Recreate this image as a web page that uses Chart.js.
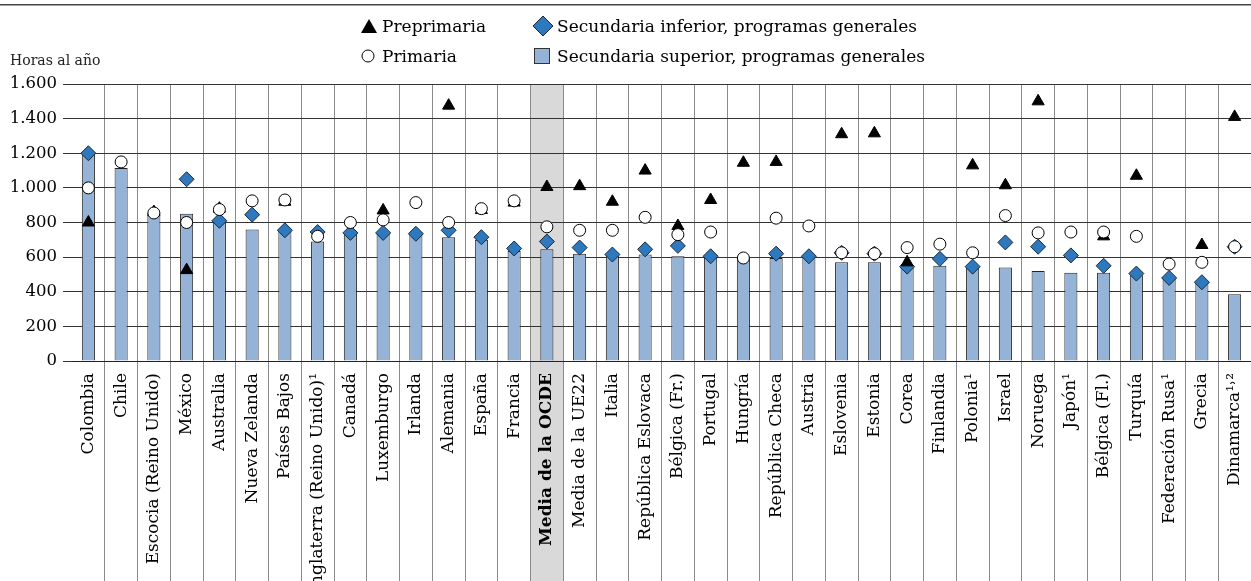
<!DOCTYPE html>
<html>
<head>
<meta charset="utf-8">
<script src="https://cdn.jsdelivr.net/npm/chart.js@4.4.1/dist/chart.umd.min.js"></script>
<style>
  html, body { margin: 0; padding: 0; background: #fff; }
  #wrap { position: relative; width: 1251px; height: 581px; overflow: hidden; }
  #chart { position: absolute; left: 0; top: 0; }
  .leg { position: absolute; height: 22px; line-height: 22px; font-family: 'DejaVu Serif', serif; font-size: 17px; color: #000; white-space: nowrap; }
  .leg svg { position: absolute; top: 0; }
  #unit { position: absolute; left: 10px; top: 52px; font-family: 'DejaVu Serif', serif; font-size: 14px; color: #222; }
</style>
</head>
<body>
<div id="wrap">
  <canvas id="chart" width="1251" height="581"></canvas>
  <div id="unit">Horas al año</div>
</div>
<script>
// datos
const categories = [
  "Colombia", "Chile", "Escocia (Reino Unido)", "México", "Australia", "Nueva Zelanda",
  "Países Bajos", "Inglaterra (Reino Unido)¹", "Canadá", "Luxemburgo", "Irlanda", "Alemania",
  "España", "Francia", "Media de la OCDE", "Media de la UE22", "Italia", "República Eslovaca",
  "Bélgica (Fr.)", "Portugal", "Hungría", "República Checa", "Austria", "Eslovenia",
  "Estonia", "Corea", "Finlandia", "Polonia¹", "Israel", "Noruega",
  "Japón¹", "Bélgica (Fl.)", "Turquía", "Federación Rusa¹", "Grecia", "Dinamarca¹˒²"
];
const preprimaria = [
  800, null, 860, 525, 880, null, 920, null, null, 870, null, 1475,
  872, 915, 1005, 1010, 920, 1100, 780, 930, 1145, 1150, null, 1310,
  1315, 570, null, 1130, 1015, 1500, null, 720, 1070, null, 670, 1410
];
const primaria = [
  1000, 1150, 855, 800, 875, 925, 930, 720, 800, 815, 915, 800,
  880, 925, 775, 755, 755, 830, 730, 745, 595, 825, 780, 625,
  620, 655, 675, 625, 840, 740, 745, 745, 720, 560, 570, 660
];
const secInferior = [
  1200, null, null, 1050, 810, 845, 755, 745, 740, 740, 735, 755,
  715, 650, 690, 655, 615, 645, 665, 605, null, 620, 605, 625,
  620, 545, 590, 545, 685, 660, 610, 550, 505, 480, 455, 660
];
const secSuperior = [
  1200, 1115, 855, 850, 810, 760, 750, 690, 740, 735, 735, 715,
  700, 635, 645, 620, 610, 615, 605, 600, 595, 595, 600, 570,
  570, 540, 550, 540, 540, 520, 510, 510, 495, 475, 450, 385
];
const yTicks = [0, 200, 400, 600, 800, 1000, 1200, 1400, 1600];
const seriesNames = [
  "Preprimaria", "Primaria",
  "Secundaria inferior, programas generales", "Secundaria superior, programas generales"
];
const highlightIndex = 14;

const FONT = "'DejaVu Serif', serif";

// número con punto de miles
function fmt(v) {
  return String(v).replace(/\B(?=(\d{3})+(?!\d))/g, ".");
}

// leyenda en HTML (dos columnas)
function buildLegend() {
  const wrap = document.getElementById("wrap");
  const markers = [
    '<svg width="18" height="22"><polygon points="9,4 17,18 1,18" fill="#000"/></svg>',
    '<svg width="18" height="22"><circle cx="8" cy="11" r="6" fill="#fff" stroke="#000" stroke-width="1"/></svg>',
    '<svg width="22" height="22"><polygon points="11,1 21,11 11,21 1,11" fill="#2e78bd" stroke="#1a2a3a" stroke-width="1"/></svg>',
    '<svg width="18" height="22"><rect x="2.5" y="3.5" width="15" height="15" fill="#95b3d7" stroke="#333" stroke-width="1"/></svg>'
  ];
  const pos = [
    { left: 360, top: 15, textLeft: 22 },
    { left: 360, top: 45, textLeft: 22 },
    { left: 532, top: 15, textLeft: 25 },
    { left: 532, top: 45, textLeft: 25 }
  ];
  seriesNames.forEach((name, i) => {
    const d = document.createElement("div");
    d.className = "leg";
    d.style.left = pos[i].left + "px";
    d.style.top = pos[i].top + "px";
    d.innerHTML = markers[i] + '<span style="padding-left:' + pos[i].textLeft + 'px">' + name + "</span>";
    wrap.appendChild(d);
  });
}

// fondo gris de la media OCDE y línea superior
const decoPlugin = {
  id: "deco",
  beforeDraw(chart) {
    const ctx = chart.ctx;
    const x = chart.scales.x;
    const area = chart.chartArea;
    const half = (x.getPixelForValue(1) - x.getPixelForValue(0)) / 2;
    const cx = x.getPixelForValue(highlightIndex);
    ctx.save();
    ctx.fillStyle = "#d9d9d9";
    ctx.fillRect(cx - half, area.top, half * 2, chart.height - area.top);
    ctx.fillStyle = "#444";
    ctx.fillRect(0, 4, chart.width, 1.5);
    ctx.restore();
  }
};

function main() {
  buildLegend();
  Chart.defaults.font.family = FONT;
  Chart.defaults.color = "#000";

  const ctx = document.getElementById("chart").getContext("2d");
  new Chart(ctx, {
    data: {
      labels: categories,
      datasets: [
        {
          type: "line",
          label: seriesNames[1],
          data: primaria,
          showLine: false,
          pointStyle: "circle",
          pointRadius: 6,
          pointBackgroundColor: "#fff",
          pointBorderColor: "#000",
          pointBorderWidth: 1,
          order: 0
        },
        {
          type: "line",
          label: seriesNames[0],
          data: preprimaria,
          showLine: false,
          pointStyle: "triangle",
          pointRadius: 7,
          pointBackgroundColor: "#000",
          pointBorderColor: "#000",
          pointBorderWidth: 1,
          order: 1
        },
        {
          type: "line",
          label: seriesNames[2],
          data: secInferior,
          showLine: false,
          pointStyle: "rectRot",
          pointRadius: 7.5,
          pointBackgroundColor: "#2e78bd",
          pointBorderColor: "#1a2a3a",
          pointBorderWidth: 1,
          order: 2
        },
        {
          type: "bar",
          label: seriesNames[3],
          data: secSuperior,
          backgroundColor: "#95b3d7",
          borderColor: "#222",
          borderWidth: 1,
          barPercentage: 0.4,
          categoryPercentage: 1,
          order: 3
        }
      ]
    },
    options: {
      responsive: false,
      animation: false,
      events: [],
      layout: { autoPadding: false, padding: { top: 84, left: 0, right: 0, bottom: 0 } },
      plugins: {
        legend: { display: false },
        tooltip: { enabled: false }
      },
      scales: {
        x: {
          offset: true,
          afterFit: (s) => {
            s.height = 220;
            s.paddingLeft = 0;
            s.paddingRight = 0;
          },
          grid: {
            offset: true,
            color: (c) => (c.index === 0 ? "rgba(0,0,0,0)" : "#8a8a8a"),
            lineWidth: 1,
            tickLength: 220,
            drawTicks: true
          },
          border: { display: true, color: "#222", width: 1 },
          ticks: {
            minRotation: 90,
            maxRotation: 90,
            autoSkip: false,
            padding: -208,
            color: "#000",
            font: (c) => ({
              family: FONT,
              size: 17,
              weight: c.index === highlightIndex ? "bold" : "normal"
            })
          }
        },
        y: {
          min: 0,
          max: 1600,
          afterFit: (s) => { s.width = 72; },
          afterBuildTicks: (axis) => { axis.ticks = yTicks.map((v) => ({ value: v })); },
          grid: { color: "#333", lineWidth: 1, tickLength: 9 },
          border: { display: false },
          ticks: {
            padding: 6,
            color: "#000",
            font: { family: FONT, size: 16.5 },
            callback: (v) => fmt(v)
          }
        }
      }
    },
    plugins: [decoPlugin]
  });
}

document.addEventListener("DOMContentLoaded", main);
</script>
</body>
</html>
